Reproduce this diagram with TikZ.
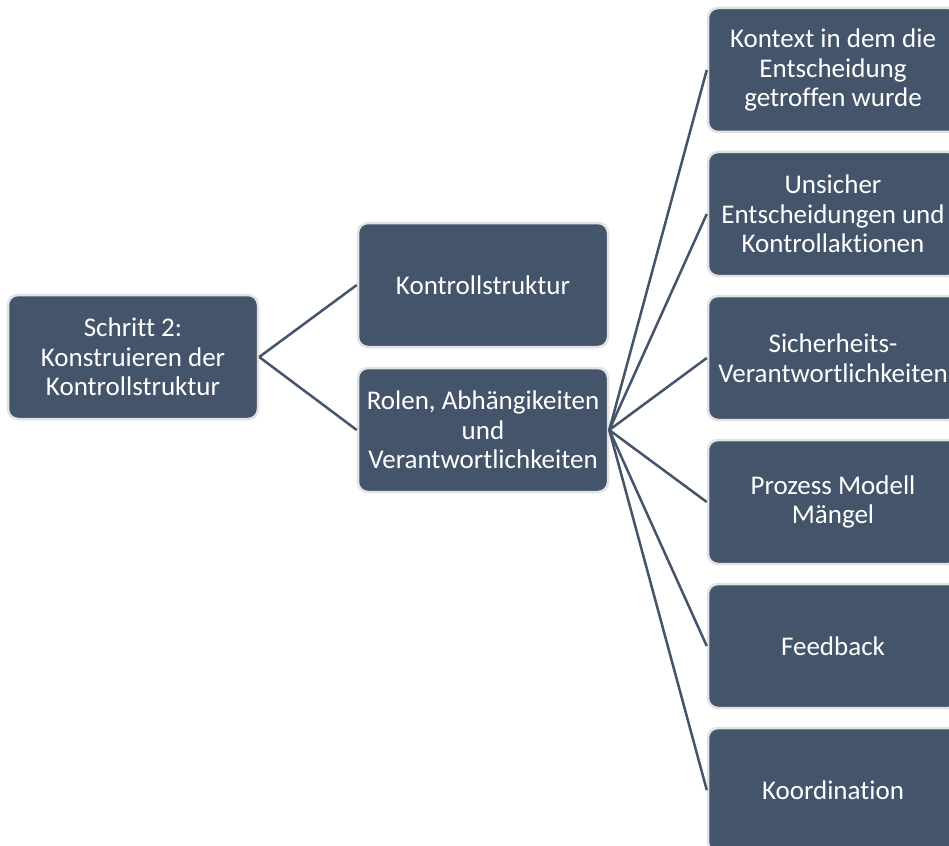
\documentclass[tikz,border=0pt]{standalone}
\usepackage{fontspec}
\setmainfont{Carlito}[Ligatures=NoCommon]
\definecolor{boxfill}{HTML}{44546A}
\definecolor{boxline}{HTML}{E2E2E2}
\tikzset{
  box/.style={draw=boxline, line width=2.5pt, fill=boxfill, rounded corners=10pt,
    minimum width=250pt, minimum height=124pt, text=white, align=center,
    font=\fontsize{27}{29.5}\selectfont, inner sep=0pt},
  conn/.style={draw=boxfill, line width=2.5pt}
}
\begin{document}
\begin{tikzpicture}[x=1pt,y=-1pt]
\useasboundingbox (0,0) rectangle (949,845);
\clip (0,0) rectangle (949,845);
\fill[white] (0,0) rectangle (949,845);
\node[box] (root) at (133,357) {Schritt 2:\\Konstruieren der\\Kontrollstruktur};
\node[box] (k) at (483,285) {Kontrollstruktur};
\node[box] (r) at (483,430) {Rolen, Abhängikeiten\\und\\Verantwortlichkeiten};
\node[box] (c1) at (833,70) {Kontext in dem die\\Entscheidung\\getroffen wurde};
\node[box] (c2) at (833,214) {Unsicher\\Entscheidungen und\\Kontrollaktionen};
\node[box] (c3) at (833,358) {Sicherheits-\\Verantwortlichkeiten};
\node[box] (c4) at (833,502) {Prozess Modell\\Mängel};
\node[box] (c5) at (833,646) {Feedback};
\node[box] (c6) at (833,790) {Koordination};
\draw[conn] (root.east) -- (k.west);
\draw[conn] (root.east) -- (r.west);
\foreach \n in {c1,c2,c3,c4,c5,c6} {
  \draw[conn] (r.east) -- (\n.west);
}
\end{tikzpicture}
\end{document}
